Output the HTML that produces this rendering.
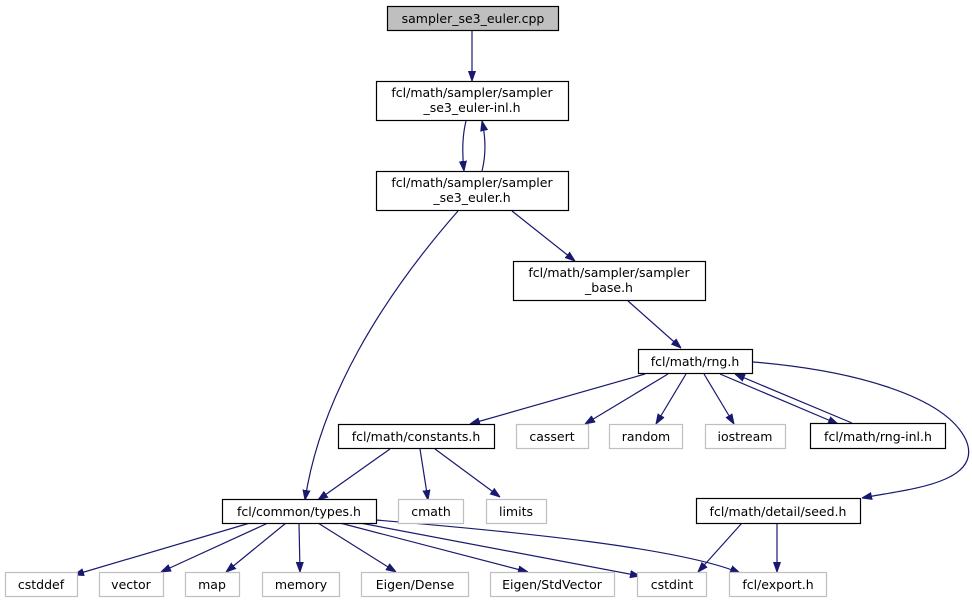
<!DOCTYPE html>
<html><head><meta charset="utf-8"><style>
html,body{margin:0;padding:0;background:#fff;}
svg text{font-family:"DejaVu Sans","Liberation Sans",sans-serif;font-size:12.5px;fill:#000;text-anchor:middle;}
.b{fill:#fff;stroke:#000;stroke-width:1.2}
.g{fill:#fff;stroke:#bfbfbf;stroke-width:1.2}
.e{fill:none;stroke:#191970;stroke-width:1.2}
</style></head><body>
<svg width="972" height="604" viewBox="0 0 972 604" xmlns="http://www.w3.org/2000/svg">
<defs><marker id="a" viewBox="0 0 10 10" refX="10" refY="5" markerWidth="10" markerHeight="10" markerUnits="userSpaceOnUse" orient="auto"><path d="M0,1.5 L10,5 L0,8.5 z" fill="#191970" stroke="#191970"/></marker></defs>
<path class="e" marker-end="url(#a)" d="M472,31 L472,81"/>
<path class="e" marker-end="url(#a)" d="M466,121 C462,137 462,153 464,171"/>
<path class="e" marker-end="url(#a)" d="M482,171 C486,155 486,139 482,121"/>
<path class="e" marker-end="url(#a)" d="M512,211 L575,261"/>
<path class="e" marker-end="url(#a)" d="M458,211 C380,300 320,400 305,500"/>
<path class="e" marker-end="url(#a)" d="M628,301 L681,348"/>
<path class="e" marker-end="url(#a)" d="M645,374 L470,424"/>
<path class="e" marker-end="url(#a)" d="M668,374 L585,424"/>
<path class="e" marker-end="url(#a)" d="M686,374 L656,424"/>
<path class="e" marker-end="url(#a)" d="M704,374 L734,424"/>
<path class="e" marker-end="url(#a)" d="M720,374 L838,424"/>
<path class="e" marker-end="url(#a)" d="M852,423 L735,374"/>
<path class="e" marker-end="url(#a)" d="M753,362 C850,370 945,395 966,440 C985,485 900,490 862,498"/>
<path class="e" marker-end="url(#a)" d="M390,449 L318,500"/>
<path class="e" marker-end="url(#a)" d="M420,449 L428,500"/>
<path class="e" marker-end="url(#a)" d="M435,449 L500,497"/>
<path class="e" marker-end="url(#a)" d="M742,523 L698,572"/>
<path class="e" marker-end="url(#a)" d="M777,523 L777,572"/>
<path class="e" marker-end="url(#a)" d="M250,523 L74,575"/>
<path class="e" marker-end="url(#a)" d="M268,523 L161,572"/>
<path class="e" marker-end="url(#a)" d="M286,523 L226,572"/>
<path class="e" marker-end="url(#a)" d="M299,523 L300,572"/>
<path class="e" marker-end="url(#a)" d="M318,523 L396,572"/>
<path class="e" marker-end="url(#a)" d="M340,523 L528,572"/>
<path class="e" marker-end="url(#a)" d="M360,523 L640,576"/>
<path class="e" marker-end="url(#a)" d="M376,520 C520,532 680,548 740,573"/>
<rect x="387.5" y="6.5" width="171" height="24" fill="#bfbfbf" stroke="#000" stroke-width="1.2"/><text x="473" y="23">sampler_se3_euler.cpp</text>
<rect class="b" x="376.5" y="81.5" width="192" height="39"/><text x="472" y="97">fcl/math/sampler/sampler</text><text x="472" y="112">_se3_euler-inl.h</text>
<rect class="b" x="376.5" y="171.5" width="192" height="39"/><text x="472" y="187">fcl/math/sampler/sampler</text><text x="472" y="202">_se3_euler.h</text>
<rect class="b" x="513.5" y="261.5" width="192" height="39"/><text x="609" y="277">fcl/math/sampler/sampler</text><text x="609" y="292">_base.h</text>
<rect class="b" x="638.5" y="349.5" width="114" height="24"/><text x="695" y="366">fcl/math/rng.h</text>
<rect class="b" x="338.5" y="424.5" width="156" height="24"/><text x="416" y="441">fcl/math/constants.h</text>
<rect class="g" x="516.5" y="424.5" width="72" height="24"/><text x="552" y="441">cassert</text>
<rect class="g" x="609.5" y="424.5" width="73" height="24"/><text x="646" y="441">random</text>
<rect class="g" x="705.5" y="424.5" width="80" height="24"/><text x="745" y="441">iostream</text>
<rect class="b" x="810.5" y="423.5" width="135" height="25"/><text x="878" y="441">fcl/math/rng-inl.h</text>
<rect class="b" x="222.5" y="499.5" width="154" height="24"/><text x="299" y="516">fcl/common/types.h</text>
<rect class="g" x="398.5" y="499.5" width="65" height="24"/><text x="431" y="516">cmath</text>
<rect class="g" x="486.5" y="499.5" width="60" height="24"/><text x="516" y="516">limits</text>
<rect class="b" x="696.5" y="498.5" width="164" height="25"/><text x="778" y="516">fcl/math/detail/seed.h</text>
<rect class="g" x="5.5" y="572.5" width="72" height="24"/><text x="41" y="589">cstddef</text>
<rect class="g" x="99.5" y="572.5" width="64" height="24"/><text x="131" y="589">vector</text>
<rect class="g" x="185.5" y="572.5" width="54" height="24"/><text x="212" y="589">map</text>
<rect class="g" x="262.5" y="572.5" width="77" height="24"/><text x="301" y="589">memory</text>
<rect class="g" x="361.5" y="572.5" width="107" height="24"/><text x="415" y="589">Eigen/Dense</text>
<rect class="g" x="490.5" y="572.5" width="124" height="24"/><text x="552" y="589">Eigen/StdVector</text>
<rect class="g" x="637.5" y="572.5" width="69" height="24"/><text x="672" y="589">cstdint</text>
<rect class="g" x="729.5" y="572.5" width="97" height="24"/><text x="778" y="589">fcl/export.h</text>
</svg>
</body></html>
